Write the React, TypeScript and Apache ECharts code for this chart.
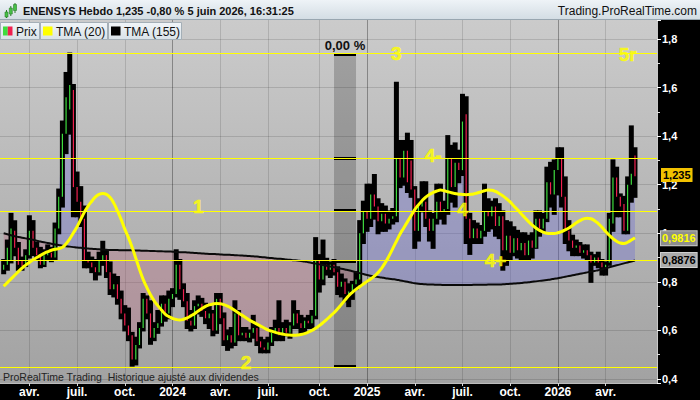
import React, { useEffect, useRef } from "react";
import * as echarts from "echarts";

const FONT = '"Liberation Sans", Arial, Helvetica, sans-serif';

// Weekly bars (Monday dates); first bar = week of 13 Feb 2023, last = week of 1 Jun 2026
const FIRST_BAR = "2023-02-13";
const EMPTY_WEEKS_AFTER = 6;

const OPEN = [
  0.85, 0.87, 0.89, 1.01, 0.94, 0.89, 0.87, 0.91, 1.01, 0.94,
  0.91, 0.87, 0.91, 0.92, 0.90, 1.02, 1.15, 1.41, 1.51, 1.59,
  1.19, 1.13, 1.06, 0.89, 0.88, 0.86, 0.84, 0.89, 0.91, 0.84,
  0.77, 0.79, 0.73, 0.67, 0.62, 0.58, 0.48, 0.54, 0.61, 0.73,
  0.67, 0.57, 0.61, 0.63, 0.71, 0.67, 0.73, 0.75, 0.87, 0.77,
  0.72, 0.64, 0.62, 0.70, 0.71, 0.68, 0.65, 0.67, 0.60, 0.73,
  0.65, 0.56, 0.58, 0.55, 0.67, 0.58, 0.59, 0.57, 0.59, 0.61,
  0.555, 0.53, 0.52, 0.55, 0.59, 0.61, 0.58, 0.61, 0.59, 0.62,
  0.67, 0.63, 0.61, 0.64, 0.63, 0.66, 0.89, 0.81, 0.87, 0.85,
  0.87, 0.84, 0.78, 0.80, 0.75, 0.76, 0.79, 0.81, 1.00, 1.09,
  1.06, 1.16, 1.11, 1.05, 1.08, 1.04, 1.06, 1.07, 1.31, 1.23,
  1.34, 1.30, 1.18, 1.01, 1.11, 1.13, 1.06, 1.01, 1.06, 1.13,
  1.09, 1.10, 1.31, 1.19, 1.29, 1.26, 1.49, 1.06, 0.98, 1.02,
  0.98, 1.01, 1.09, 1.07, 1.11, 1.03, 1.07, 0.93, 0.99, 0.92,
  0.98, 0.93, 0.96, 0.91, 0.97, 0.94, 1.06, 1.02, 1.06, 1.21,
  1.16, 1.26, 1.31, 1.15, 1.01, 0.97, 0.94, 0.95, 0.92, 0.93,
  0.91, 0.88, 0.90, 0.88, 0.86, 0.88, 1.04, 1.23, 1.15, 1.12,
  1.01, 1.20, 1.32,
];

const HIGH = [
  0.89, 0.97, 1.08, 1.05, 0.96, 0.90, 0.93, 1.07, 1.05, 0.96,
  0.94, 0.93, 0.95, 0.94, 1.04, 1.18, 1.46, 1.66, 1.74, 1.61,
  1.25, 1.19, 1.11, 0.92, 0.90, 0.89, 0.92, 0.965, 0.93, 0.88,
  0.83, 0.82, 0.76, 0.70, 0.69, 0.59, 0.57, 0.63, 0.75, 0.74,
  0.72, 0.63, 0.68, 0.74, 0.74, 0.76, 0.77, 0.93, 0.89, 0.79,
  0.75, 0.68, 0.72, 0.74, 0.73, 0.71, 0.70, 0.68, 0.75, 0.75,
  0.67, 0.60, 0.61, 0.72, 0.68, 0.61, 0.61, 0.60, 0.66, 0.62,
  0.57, 0.56, 0.57, 0.61, 0.64, 0.72, 0.63, 0.64, 0.63, 0.72,
  0.68, 0.66, 0.65, 0.66, 0.68, 0.98, 0.91, 0.97, 0.895, 0.88,
  0.89, 0.86, 0.83, 0.81, 0.79, 0.80, 0.84, 1.05, 1.13, 1.20,
  1.20, 1.24, 1.14, 1.12, 1.11, 1.09, 1.10, 1.62, 1.38, 1.38,
  1.41, 1.38, 1.19, 1.14, 1.21, 1.21, 1.09, 1.08, 1.20, 1.20,
  1.13, 1.40, 1.36, 1.37, 1.34, 1.57, 1.56, 1.08, 1.05, 1.04,
  1.03, 1.20, 1.14, 1.13, 1.14, 1.12, 1.09, 1.05, 1.045, 1.025,
  1.01, 1.00, 1.00, 0.99, 1.00, 1.09, 1.09, 1.08, 1.27, 1.29,
  1.30, 1.35, 1.35, 1.23, 1.05, 0.99, 0.97, 0.96, 0.95, 0.95,
  0.92, 0.91, 0.92, 0.89, 0.88, 1.08, 1.30, 1.27, 1.16, 1.15,
  1.23, 1.44, 1.35,
];

const LOW = [
  0.835, 0.85, 0.88, 0.91, 0.85, 0.85, 0.865, 0.90, 0.91, 0.89,
  0.86, 0.865, 0.89, 0.885, 0.89, 1.00, 1.11, 1.33, 1.41, 1.07,
  1.07, 1.03, 0.86, 0.86, 0.84, 0.81, 0.83, 0.87, 0.82, 0.75,
  0.74, 0.71, 0.65, 0.60, 0.56, 0.455, 0.46, 0.53, 0.60, 0.65,
  0.545, 0.56, 0.59, 0.62, 0.64, 0.65, 0.70, 0.74, 0.73, 0.70,
  0.61, 0.60, 0.61, 0.67, 0.66, 0.63, 0.61, 0.58, 0.59, 0.63,
  0.54, 0.52, 0.53, 0.54, 0.56, 0.56, 0.56, 0.555, 0.57, 0.54,
  0.51, 0.51, 0.51, 0.54, 0.56, 0.56, 0.56, 0.58, 0.57, 0.61,
  0.61, 0.59, 0.59, 0.61, 0.61, 0.65, 0.76, 0.79, 0.83, 0.82,
  0.83, 0.75, 0.74, 0.72, 0.70, 0.73, 0.77, 0.79, 0.96, 1.01,
  1.03, 1.06, 1.00, 1.01, 1.01, 1.02, 1.04, 1.05, 1.19, 1.20,
  1.17, 1.15, 0.94, 0.97, 1.09, 1.03, 0.97, 0.94, 1.04, 1.06,
  1.04, 1.08, 1.13, 1.11, 1.21, 1.24, 0.96, 0.915, 0.96, 0.96,
  0.96, 0.99, 1.01, 1.02, 0.99, 0.98, 0.85, 0.87, 0.89, 0.91,
  0.90, 0.89, 0.89, 0.89, 0.90, 0.94, 0.99, 1.01, 1.05, 1.11,
  1.08, 1.16, 1.11, 0.96, 0.93, 0.91, 0.91, 0.91, 0.90, 0.89,
  0.80, 0.87, 0.86, 0.83, 0.83, 0.87, 1.01, 1.07, 1.07, 1.00,
  1.00, 1.13, 1.15,
];

const CLOSE = [
  0.87, 0.94, 1.02, 0.94, 0.87, 0.865, 0.91, 1.01, 0.94, 0.91,
  0.87, 0.91, 0.92, 0.90, 1.02, 1.15, 1.41, 1.56, 1.61, 1.19,
  1.13, 1.06, 0.89, 0.88, 0.86, 0.84, 0.89, 0.91, 0.84, 0.77,
  0.79, 0.73, 0.67, 0.62, 0.58, 0.48, 0.54, 0.61, 0.73, 0.67,
  0.57, 0.61, 0.63, 0.71, 0.67, 0.73, 0.75, 0.87, 0.77, 0.72,
  0.64, 0.62, 0.70, 0.71, 0.68, 0.65, 0.67, 0.60, 0.73, 0.65,
  0.56, 0.58, 0.55, 0.67, 0.58, 0.59, 0.57, 0.59, 0.61, 0.555,
  0.53, 0.52, 0.55, 0.59, 0.61, 0.58, 0.61, 0.59, 0.62, 0.67,
  0.63, 0.61, 0.64, 0.63, 0.66, 0.89, 0.81, 0.87, 0.85, 0.87,
  0.84, 0.78, 0.80, 0.75, 0.76, 0.79, 0.81, 1.00, 1.09, 1.06,
  1.16, 1.11, 1.05, 1.08, 1.04, 1.06, 1.07, 1.31, 1.23, 1.34,
  1.21, 1.18, 1.01, 1.11, 1.13, 1.06, 1.01, 1.06, 1.13, 1.09,
  1.10, 1.31, 1.19, 1.29, 1.26, 1.46, 1.06, 0.98, 1.02, 0.98,
  1.01, 1.09, 1.07, 1.11, 1.03, 1.07, 0.93, 0.99, 0.92, 0.98,
  0.93, 0.96, 0.91, 0.97, 0.94, 1.06, 1.02, 1.06, 1.21, 1.16,
  1.26, 1.31, 1.15, 1.01, 0.97, 0.94, 0.95, 0.92, 0.93, 0.91,
  0.88, 0.90, 0.88, 0.86, 0.87, 1.06, 1.23, 1.15, 1.11, 1.01,
  1.20, 1.245, 1.235,
];

const TMA20 = [
  0.782, 0.797, 0.812, 0.827, 0.842, 0.857, 0.869, 0.880, 0.891, 0.900,
  0.909, 0.917, 0.924, 0.930, 0.934, 0.937, 0.942, 0.957, 0.977, 1.002,
  1.027, 1.057, 1.087, 1.112, 1.132, 1.150, 1.160, 1.164, 1.160, 1.147,
  1.124, 1.092, 1.057, 1.017, 0.982, 0.942, 0.897, 0.852, 0.810, 0.777,
  0.747, 0.722, 0.702, 0.684, 0.667, 0.657, 0.650, 0.645, 0.643, 0.646,
  0.652, 0.660, 0.669, 0.680, 0.690, 0.699, 0.705, 0.709, 0.711, 0.710,
  0.706, 0.700, 0.692, 0.682, 0.672, 0.662, 0.652, 0.642, 0.634, 0.626,
  0.618, 0.610, 0.602, 0.597, 0.592, 0.588, 0.585, 0.582, 0.581, 0.580,
  0.581, 0.583, 0.587, 0.593, 0.600, 0.609, 0.620, 0.632, 0.645, 0.659,
  0.673, 0.689, 0.707, 0.725, 0.743, 0.757, 0.769, 0.780, 0.791, 0.802,
  0.812, 0.824, 0.838, 0.857, 0.880, 0.907, 0.937, 0.967, 0.997, 1.022,
  1.047, 1.072, 1.097, 1.117, 1.134, 1.149, 1.160, 1.168, 1.174, 1.178,
  1.175, 1.171, 1.167, 1.164, 1.161, 1.160, 1.159, 1.160, 1.162, 1.166,
  1.170, 1.175, 1.178, 1.177, 1.172, 1.164, 1.154, 1.142, 1.129, 1.112,
  1.097, 1.080, 1.064, 1.048, 1.034, 1.022, 1.012, 1.005, 1.000, 0.999,
  0.999, 1.002, 1.007, 1.014, 1.022, 1.032, 1.043, 1.052, 1.059, 1.062,
  1.060, 1.052, 1.040, 1.025, 1.007, 0.992, 0.978, 0.967, 0.960, 0.958,
  0.963, 0.972, 0.9816,
];

const TMA155 = [
  1.000, 0.996, 0.992, 0.988, 0.985, 0.982, 0.979, 0.976, 0.973, 0.969,
  0.966, 0.963, 0.960, 0.957, 0.954, 0.952, 0.949, 0.947, 0.945, 0.943,
  0.941, 0.940, 0.938, 0.937, 0.936, 0.935, 0.934, 0.933, 0.932, 0.931,
  0.931, 0.931, 0.930, 0.930, 0.930, 0.930, 0.929, 0.929, 0.928, 0.928,
  0.927, 0.927, 0.926, 0.926, 0.925, 0.925, 0.924, 0.923, 0.922, 0.922,
  0.921, 0.920, 0.919, 0.918, 0.917, 0.916, 0.915, 0.915, 0.914, 0.913,
  0.912, 0.912, 0.911, 0.910, 0.909, 0.908, 0.907, 0.906, 0.905, 0.904,
  0.902, 0.901, 0.899, 0.898, 0.896, 0.895, 0.894, 0.892, 0.891, 0.889,
  0.888, 0.886, 0.884, 0.881, 0.878, 0.875, 0.872, 0.869, 0.866, 0.863,
  0.860, 0.857, 0.854, 0.851, 0.848, 0.844, 0.840, 0.836, 0.832, 0.828,
  0.825, 0.822, 0.820, 0.818, 0.815, 0.813, 0.811, 0.809, 0.806, 0.803,
  0.800, 0.797, 0.794, 0.792, 0.791, 0.790, 0.789, 0.789, 0.788, 0.788,
  0.787, 0.787, 0.787, 0.787, 0.787, 0.787, 0.787, 0.787, 0.788, 0.788,
  0.788, 0.788, 0.789, 0.789, 0.789, 0.789, 0.790, 0.791, 0.792, 0.793,
  0.794, 0.795, 0.797, 0.798, 0.800, 0.802, 0.804, 0.806, 0.808, 0.810,
  0.813, 0.815, 0.818, 0.821, 0.824, 0.827, 0.830, 0.833, 0.836, 0.839,
  0.842, 0.845, 0.848, 0.852, 0.856, 0.860, 0.864, 0.868, 0.872, 0.876,
  0.880, 0.884, 0.8876,
];

// horizontal support / resistance levels
const LEVELS = [1.735, 1.309, 1.095, 0.886, 0.453];
// level annotations: bar index (week) and price
const LEVEL_LABELS = [
  { text: "3", bar: 107, level: 1.739 },
  { text: "5r", bar: 170, level: 1.738 },
  { text: "4-", bar: 117, level: 1.322 },
  { text: "1", bar: 53, level: 1.112 },
  { text: "4", bar: 125, level: 1.096 },
  { text: "4+", bar: 134, level: 0.888 },
  { text: "2", bar: 66, level: 0.468 },
];
const ZONE_BARS = [90, 96];
const ZONE_TEXT = "0,00 %";

const TITLE = "ENENSYS Hebdo 1,235 -0,80 % 5 juin 2026, 16:31:25";
const SITE = "Trading.ProRealTime.com";
const FOOTNOTE = "ProRealTime Trading  Historique ajusté aux dividendes";
const MONTH_LABELS: Record<number, string> = { 3: "avr.", 6: "juil.", 9: "oct." };

const GREEN = "#3fdc3f";
const RED = "#f0204f";
const YELLOW = "#ffff00";

export default function App() {
  const ref = useRef<HTMLDivElement>(null);

  useEffect(() => {
    const el = ref.current;
    if (!el) return;
    const chart = echarts.init(el, null, { renderer: "svg" });

    const DAY = 86400000;
    const first = Date.parse(FIRST_BAR + "T00:00:00Z");
    const nCats = 1 + CLOSE.length + EMPTY_WEEKS_AFTER;
    const cats: string[] = [];
    for (let k = 0; k < nCats; k++) {
      cats.push(new Date(first + (k - 1) * 7 * DAY).toISOString().slice(0, 10));
    }
    const monthOf = (s: string) => Number(s.slice(5, 7)) - 1;
    const isQuarter = (index: number) => {
      if (index <= 0 || index > CLOSE.length) return false;
      const m = monthOf(cats[index]);
      return m % 3 === 0 && monthOf(cats[index - 1]) !== m;
    };
    const pad = (arr: number[]) => [null, ...arr];
    const catOf = (bar: number) => cats[bar + 1];

    const candleData = CLOSE.map((c, i) => [i + 1, OPEN[i], HIGH[i], LOW[i], c]);
    const fillBase = CLOSE.map((c, i) => Math.min(c, TMA155[i]));
    const fillUp = CLOSE.map((c, i) => Math.max(c - TMA155[i], 0));
    const fillDown = CLOSE.map((c, i) => Math.max(TMA155[i] - c, 0));
    const last = CLOSE.length - 1;
    const fmt = (v: number, d: number) => v.toFixed(d).replace(".", ",");

    const lg = (a: string, b: string) =>
      new echarts.graphic.LinearGradient(0, 0, 0, 1, [
        { offset: 0, color: a },
        { offset: 1, color: b },
      ]);

    const legendItems = [
      { label: "Prix", x: 0, w: 39, sw: [GREEN, RED] },
      { label: "TMA (20)", x: 40, w: 67, sw: [YELLOW] },
      { label: "TMA (155)", x: 108, w: 73, sw: ["#000000"] },
    ];
    const legendGraphics: any[] = [];
    legendItems.forEach((it) => {
      legendGraphics.push({
        type: "rect",
        z: 100,
        shape: { x: it.x + 0.5, y: 22.5, width: it.w, height: 17 },
        style: { fill: lg("#f1f5f8", "#d9e2e8"), stroke: "#a4afb7", lineWidth: 1 },
      });
      const sw = 9.5 / it.sw.length;
      it.sw.forEach((c, k) => {
        legendGraphics.push({
          type: "rect",
          z: 101,
          shape: { x: it.x + 3 + k * sw, y: 26.5, width: sw, height: 9 },
          style: { fill: c },
        });
      });
      legendGraphics.push({
        type: "text",
        z: 101,
        x: it.x + 16,
        y: 31.5,
        style: { text: it.label, font: `12px ${FONT}`, fill: "#111", verticalAlign: "middle" },
      });
    });

    const iconGraphics: any[] = [
      [6.5, 10, 18, 5, 12, 5],
      [10.8, 6, 16, 9.3, 8, 6],
      [15, 3, 13, 13.5, 4.5, 6],
    ].flatMap(([cx, y1, y2, rx, ry, rh]) => [
      { type: "line", z: 101, shape: { x1: cx, y1, x2: cx, y2 }, style: { stroke: "#2a7d2a", lineWidth: 1 } },
      { type: "rect", z: 101, shape: { x: rx, y: ry, width: 3, height: rh }, style: { fill: "#46c046", stroke: "#2a7d2a", lineWidth: 0.6 } },
    ]);

    const option: any = {
      animation: false,
      backgroundColor: "#000000",
      textStyle: { fontFamily: FONT },
      grid: {
        left: 0,
        right: 43,
        top: 20,
        bottom: 17,
        show: true,
        borderWidth: 0,
        backgroundColor: lg("#cbcbcb", "#a2a2a2"),
      },
      xAxis: {
        type: "category",
        data: cats,
        boundaryGap: false,
        axisLine: { show: true, lineStyle: { color: "#bdbdbd", width: 1 } },
        axisTick: { show: true, interval: isQuarter, length: 3, lineStyle: { color: "#d8d8d8" } },
        axisLabel: {
          interval: isQuarter,
          margin: 3,
          color: "#ffffff",
          fontWeight: "bold",
          fontSize: 12,
          fontFamily: FONT,
          formatter: (v: string) => {
            const m = monthOf(v);
            return m === 0 ? v.slice(0, 4) : MONTH_LABELS[m] || "";
          },
        },
        splitLine: {
          show: true,
          interval: isQuarter,
          lineStyle: {
            color: ["rgba(0,0,0,0.13)", "rgba(0,0,0,0.13)", "rgba(0,0,0,0.13)", "rgba(0,0,0,0.32)"],
            width: 1,
          },
        },
      },
      yAxis: {
        type: "value",
        position: "right",
        min: 0.3836,
        max: 1.878,
        splitNumber: 7,
        minInterval: 0.2,
        maxInterval: 0.2,
        axisLine: { show: true, lineStyle: { color: "#c8c8c8" } },
        axisTick: { show: true, length: 4, lineStyle: { color: "#ffffff" } },
        minorTick: { show: true, splitNumber: 2, length: 3, lineStyle: { color: "#dddddd" } },
        axisLabel: {
          showMinLabel: false,
          showMaxLabel: false,
          color: "#ffffff",
          fontWeight: "bold",
          fontSize: 11,
          fontFamily: FONT,
          margin: 5,
          padding: [0, 0, 6, 0],
          formatter: (v: number) => String(Math.round(v * 10) / 10).replace(".", ","),
        },
        splitLine: {
          show: true,
          showMinLine: false,
          showMaxLine: false,
          lineStyle: { color: "rgba(0,0,0,0.13)" },
        },
      },
      series: [
        {
          name: "zone",
          type: "line",
          data: [],
          z: 1,
          silent: true,
          markArea: {
            silent: true,
            z: 1,
            itemStyle: { color: "rgba(0,0,0,0.2)" },
            label: {
              show: true,
              position: "top",
              distance: 3,
              formatter: ZONE_TEXT,
              color: "#111111",
              fontSize: 13,
              fontWeight: "bold",
              fontFamily: FONT,
            },
            data: [
              [
                { xAxis: catOf(ZONE_BARS[0]), yAxis: LEVELS[0] },
                { xAxis: catOf(ZONE_BARS[1]), yAxis: LEVELS[LEVELS.length - 1] },
              ],
            ],
          },
          markLine: {
            silent: true,
            z: 4,
            symbol: "none",
            label: { show: false },
            lineStyle: { color: "#000000", width: 3, type: "solid" },
            data: LEVELS.map((v) => [
              { coord: [catOf(ZONE_BARS[0]), v] },
              { coord: [catOf(ZONE_BARS[1]), v] },
            ]),
          },
        },
        {
          name: "fillBase",
          type: "line",
          stack: "fill",
          data: pad(fillBase),
          symbol: "none",
          silent: true,
          lineStyle: { width: 0, opacity: 0 },
          z: 1,
        },
        {
          name: "fillUp",
          type: "line",
          stack: "fill",
          data: pad(fillUp),
          symbol: "none",
          silent: true,
          lineStyle: { width: 0, opacity: 0 },
          areaStyle: { color: "rgba(105,105,215,0.34)", opacity: 1 },
          z: 1,
        },
        {
          name: "fillDown",
          type: "line",
          stack: "fill",
          data: pad(fillDown),
          symbol: "none",
          silent: true,
          lineStyle: { width: 0, opacity: 0 },
          areaStyle: { color: "rgba(190,105,132,0.32)", opacity: 1 },
          z: 1,
        },
        {
          name: "Prix",
          type: "custom",
          data: candleData,
          encode: { x: 0, y: [1, 2, 3, 4] },
          z: 2,
          silent: true,
          renderItem: (_params: any, api: any) => {
            const x = api.value(0);
            const o = api.value(1);
            const h = api.value(2);
            const l = api.value(3);
            const c = api.value(4);
            const pH = api.coord([x, h]);
            const pL = api.coord([x, l]);
            const pO = api.coord([x, o]);
            const pC = api.coord([x, c]);
            const bw = 5;
            const top = Math.min(pO[1], pC[1]);
            const bh = Math.max(1, Math.abs(pO[1] - pC[1]));
            return {
              type: "group",
              children: [
                {
                  type: "rect",
                  shape: { x: pH[0] - bw / 2, y: pH[1] - 1, width: bw, height: pL[1] - pH[1] + 2 },
                  style: { fill: "#000000" },
                },
                {
                  type: "rect",
                  shape: { x: pH[0] - 0.6, y: top, width: 1.2, height: bh },
                  style: { fill: c >= o ? GREEN : RED },
                },
              ],
            };
          },
        },
        {
          name: "TMA (155)",
          type: "line",
          data: pad(TMA155),
          symbol: "none",
          smooth: true,
          silent: true,
          lineStyle: { color: "#0a0a0a", width: 2 },
          z: 3,
        },
        {
          name: "TMA (20)",
          type: "line",
          data: pad(TMA20),
          symbol: "none",
          smooth: true,
          silent: true,
          lineStyle: { color: YELLOW, width: 3 },
          z: 3,
        },
        {
          name: "levels",
          type: "line",
          data: [],
          silent: true,
          markLine: {
            silent: true,
            z: 6,
            symbol: "none",
            label: { show: false },
            lineStyle: { color: YELLOW, width: 1, type: "solid" },
            data: LEVELS.map((v) => ({ yAxis: v })),
          },
        },
        {
          name: "tags",
          type: "line",
          data: [],
          silent: true,
          markLine: {
            silent: true,
            z: 7,
            symbol: "none",
            lineStyle: { color: "rgba(0,0,0,0)", width: 0 },
            label: {
              show: true,
              position: "end",
              distance: 4,
              fontSize: 11,
              fontWeight: "bold",
              fontFamily: FONT,
            },
            data: [
              {
                yAxis: CLOSE[last],
                label: {
                  formatter: fmt(CLOSE[last], 3),
                  color: "#000000",
                  backgroundColor: "#f2c200",
                  padding: [2, 2, 1, 2],
                },
              },
              {
                yAxis: TMA20[last],
                label: {
                  formatter: fmt(TMA20[last], 4),
                  color: YELLOW,
                  backgroundColor: "#8e8e8e",
                  borderColor: "#c8c8c8",
                  borderWidth: 1,
                  padding: [2, 1, 1, 1],
                },
              },
              {
                yAxis: TMA155[last],
                label: {
                  formatter: fmt(TMA155[last], 4),
                  color: "#000000",
                  backgroundColor: "#ababab",
                  borderColor: "#d0d0d0",
                  borderWidth: 1,
                  padding: [2, 1, 1, 1],
                },
              },
            ],
          },
        },
        {
          name: "levelLabels",
          type: "scatter",
          silent: true,
          z: 8,
          symbolSize: 1,
          itemStyle: { color: "rgba(0,0,0,0)" },
          data: LEVEL_LABELS.map((a) => ({ name: a.text, value: [a.bar + 1, a.level] })),
          label: {
            show: true,
            position: "inside",
            formatter: "{b}",
            color: YELLOW,
            fontSize: 19,
            fontWeight: 900,
            fontFamily: FONT,
            textBorderColor: YELLOW,
            textBorderWidth: 0.6,
          },
        },
      ],
      graphic: [
        {
          type: "rect",
          z: 100,
          shape: { x: 0, y: 0, width: 700, height: 20 },
          style: { fill: lg("#eef3f7", "#d2dce3") },
        },
        {
          type: "line",
          z: 100,
          shape: { x1: 0, y1: 19.5, x2: 700, y2: 19.5 },
          style: { stroke: "#98a6b0", lineWidth: 1 },
        },
        ...iconGraphics,
        {
          type: "text",
          z: 101,
          x: 23,
          y: 10.5,
          style: { text: TITLE, font: `bold 11px ${FONT}`, fill: "#111111", verticalAlign: "middle" },
        },
        {
          type: "text",
          z: 101,
          x: 697,
          y: 11,
          style: { text: SITE, font: `12px ${FONT}`, fill: "#111111", align: "right", verticalAlign: "middle" },
        },
        ...legendGraphics,
        {
          type: "text",
          z: 101,
          x: 3,
          y: 377,
          style: { text: FOOTNOTE, font: `10.5px ${FONT}`, fill: "#222222", verticalAlign: "middle" },
        },
      ],
    };

    chart.setOption(option);
    return () => {
      chart.dispose();
    };
  }, []);

  return (
    <div
      ref={ref}
      style={{ position: "absolute", left: 0, top: 0, width: 700, height: 400 }}
    />
  );
}
